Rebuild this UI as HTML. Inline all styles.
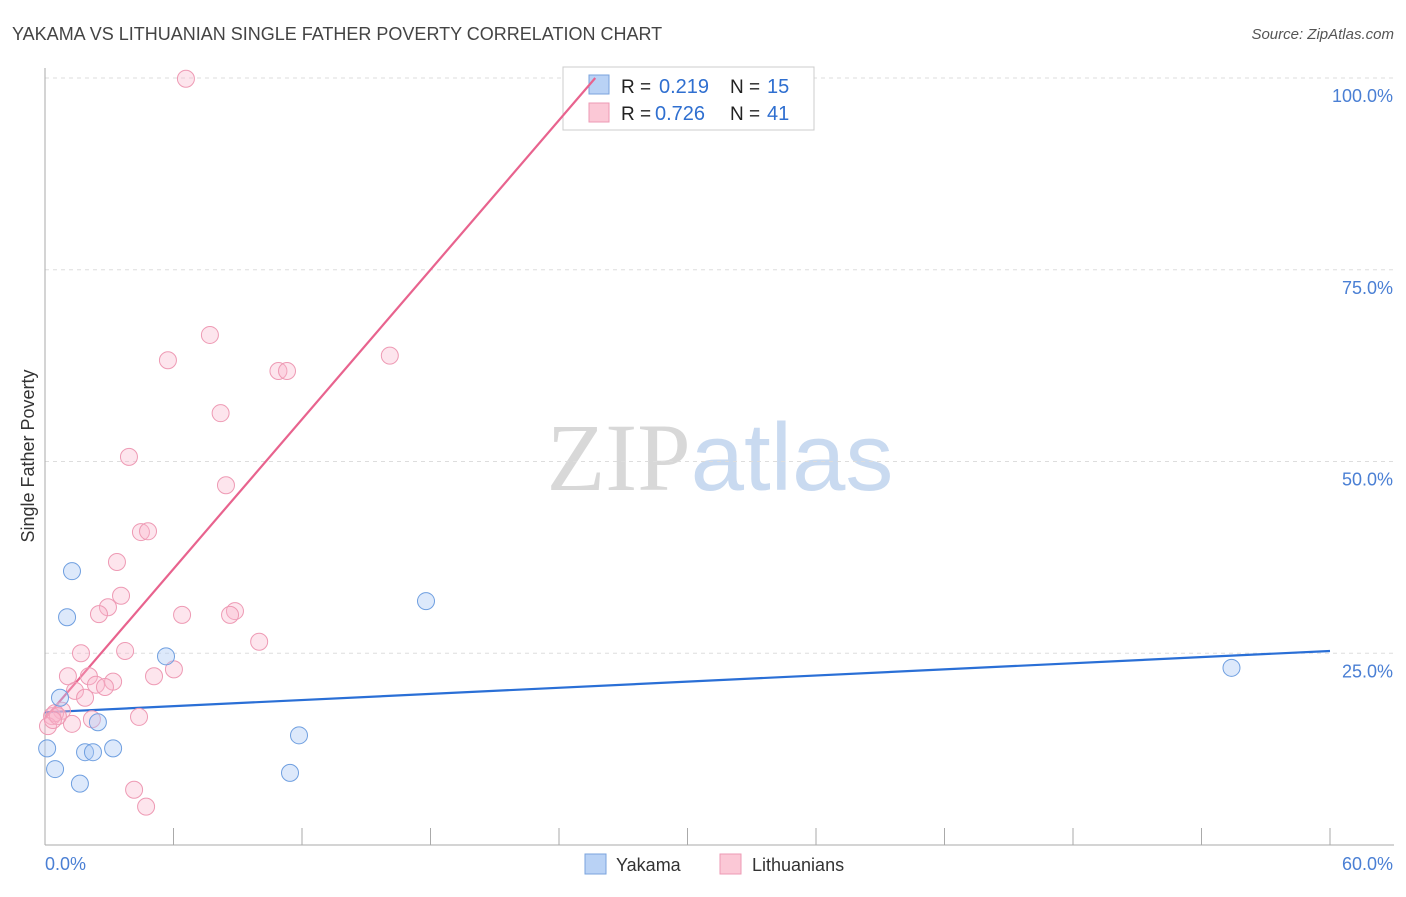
<!DOCTYPE html>
<html><head><meta charset="utf-8"><style>
body{margin:0;background:#fff;font-family:"Liberation Sans",sans-serif;}
svg text{font-family:"Liberation Sans",sans-serif;}
</style></head><body>
<svg id="chart" width="1406" height="892" viewBox="0 0 1406 892">
<text x="12" y="40" font-size="18" fill="#444">YAKAMA VS LITHUANIAN SINGLE FATHER POVERTY CORRELATION CHART</text>
<text x="1394" y="39" font-size="15" fill="#555" text-anchor="end" font-style="italic">Source: ZipAtlas.com</text>
<text x="720" y="490" font-size="96" text-anchor="middle"><tspan fill="#d8d8d8" font-family="Liberation Serif">ZIP</tspan><tspan fill="#c9daf0">atlas</tspan></text>
<g id="grid"></g>
<g id="axes"></g>
<g>
<rect x="563" y="67" width="251" height="63" fill="#fff" stroke="#ccc"/>
<rect x="589" y="75" width="20" height="19" fill="#b9d2f5" stroke="#7aa3dd"/>
<rect x="589" y="103" width="20" height="19" fill="#fbc8d6" stroke="#ee9ab4"/>
<text x="621" y="93" font-size="19" fill="#222">R =</text>
<text x="659" y="93" font-size="20" fill="#2f6fd0">0.219</text>
<text x="730" y="93" font-size="19" fill="#222">N =</text>
<text x="767" y="93" font-size="20" fill="#2f6fd0">15</text>
<text x="621" y="120" font-size="19" fill="#222">R =</text>
<text x="655" y="120" font-size="20" fill="#2f6fd0">0.726</text>
<text x="730" y="120" font-size="19" fill="#222">N =</text>
<text x="767" y="120" font-size="20" fill="#2f6fd0">41</text>
</g>
<g id="lines"></g>
<g id="points"></g>
<text transform="translate(34,456) rotate(-90)" font-size="18" fill="#333" text-anchor="middle">Single Father Poverty</text>
<g>
<rect x="585" y="854" width="21" height="20" fill="#b9d2f5" stroke="#7aa3dd"/>
<text x="616" y="871" font-size="18" fill="#333">Yakama</text>
<rect x="720" y="854" width="21" height="20" fill="#fbc8d6" stroke="#ee9ab4"/>
<text x="752" y="871" font-size="18" fill="#333">Lithuanians</text>
</g>
</svg>
<script>
const xTicks=[0,6,12,18,24,30,36,42,48,54,60];
const yTicks=[25,50,75,100];
const yakamaX=[1.26,1.03,0.7,5.65,2.47,0.1,0.47,1.87,2.24,3.18,1.63,11.86,11.44,17.79,55.4];
const yakamaY=[35.7,29.7,19.2,24.6,16.0,12.6,9.9,12.1,12.1,12.6,8.0,14.3,9.4,31.8,23.1];
const lithX=[6.58,7.7,5.74,16.1,10.9,11.3,8.2,3.92,8.45,4.48,4.81,3.36,3.55,2.94,2.52,6.4,8.87,8.64,10.0,3.74,1.68,1.07,5.09,6.02,2.05,3.18,2.38,1.4,2.8,1.87,0.79,0.33,0.47,2.19,4.39,1.26,0.14,4.16,4.72,0.6,0.37];
const lithY=[99.9,66.5,63.2,63.8,61.8,61.8,56.3,50.6,46.9,40.8,40.9,36.9,32.5,31.0,30.1,30.0,30.5,30.0,26.5,25.3,25.0,22.0,22.0,22.9,22.0,21.3,20.9,20.1,20.6,19.2,17.5,16.8,17.2,16.4,16.7,15.8,15.5,7.2,5.0,16.8,16.3];
const yakamaFit=[17.3,0.1333];
const lithFit=[16.5,3.25];
const NS='http://www.w3.org/2000/svg';
const X=v=>45+v/60*1285, Y=v=>845-v*7.67;
function mk(t,a,p){const e=document.createElementNS(NS,t);for(const k in a)e.setAttribute(k,a[k]);p.appendChild(e);return e;}
const grid=document.getElementById('grid'),axes=document.getElementById('axes'),lines=document.getElementById('lines'),pts=document.getElementById('points');
yTicks.forEach(t=>{
const g=mk('line',{x1:45,x2:1394,y1:Y(t),y2:Y(t),stroke:'#ddd','stroke-dasharray':'4,4'},grid);


const l=mk('text',{x:1393,y:Y(t)+24,'font-size':18,fill:'#4a7fd4','text-anchor':'end'},axes);
l.textContent=t.toFixed(1)+'%';


});
const ax=mk('line',{x1:45,x2:45,y1:68,y2:845,stroke:'#aaa'},axes);


const bx=mk('line',{x1:45,x2:1394,y1:845,y2:845,stroke:'#aaa'},axes);


xTicks.forEach(t=>{
const tk=mk('line',{x1:X(t),x2:X(t),y1:828,y2:845,stroke:'#aaa'},axes);


});
[[0,'start'],[60,'end']].forEach(([t,a])=>{
const l=mk('text',{x:t?1393:45,y:870,'font-size':18,fill:'#4a7fd4','text-anchor':a},axes);
l.textContent=t.toFixed(1)+'%';


});
const bl=mk('line',{x1:X(0),y1:Y(yakamaFit[0]),x2:X(60),y2:Y(yakamaFit[0]+60*yakamaFit[1]),stroke:'#2a6fd6','stroke-width':2.2},lines);


const xe=(100-lithFit[0])/lithFit[1];
const pl=mk('line',{x1:X(0),y1:Y(lithFit[0]),x2:X(xe),y2:Y(100),stroke:'#e8638e','stroke-width':2.2},lines);


lithX.forEach((x,i)=>{
const c=mk('circle',{cx:X(x),cy:Y(lithY[i]),r:8.5,fill:'rgba(248,180,202,0.35)',stroke:'#ee9ab4','stroke-width':1},pts);


});
yakamaX.forEach((x,i)=>{
const c=mk('circle',{cx:X(x),cy:Y(yakamaY[i]),r:8.5,fill:'rgba(170,200,245,0.4)',stroke:'#6f9fe0','stroke-width':1},pts);


});
</script>
</body></html>
